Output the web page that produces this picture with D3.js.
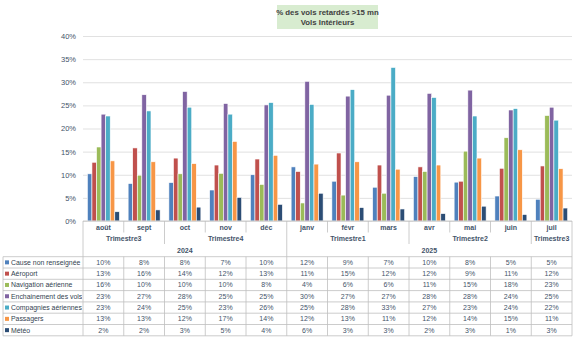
<!DOCTYPE html>
<html><head><meta charset="utf-8">
<script src="https://cdn.jsdelivr.net/npm/d3@7/dist/d3.min.js"></script>
<style>
body{margin:0;background:#fff;}
svg{display:block;font-family:"Liberation Sans",Arial,sans-serif;}
</style></head>
<body>
<svg id="c" width="576" height="339"></svg>
<script>
const months = ["août","sept","oct","nov","déc","janv","févr","mars","avr","mai","juin","juil"];
const quarters = [{label:"Trimestre3",n:2},{label:"Trimestre4",n:3},{label:"Trimestre1",n:3},{label:"Trimestre2",n:3},{label:"Trimestre3",n:1}];
const years = [{label:"2024",n:5},{label:"2025",n:7}];
const seriesNames = ["Cause non renseignée","Aéroport","Navigation aérienne","Enchainement des vols","Compagnies aériennes","Passagers","Météo"];
const colors = ["#4f81bd","#c0504d","#9bbb59","#8064a2","#4bacc6","#f79646","#2c4d75"];
// values in %
const causeNonRenseignee = [10.2,8.1,8.3,6.7,10.0,11.7,8.6,7.3,9.6,8.4,5.4,4.7];
const aeroport          = [12.7,15.8,13.6,12.1,13.4,10.7,14.7,12.1,11.7,8.6,11.4,11.9];
const navigation        = [16.0,9.9,10.2,10.3,7.9,3.9,5.6,6.0,10.7,15.1,18.0,22.8];
const enchainement      = [23.1,27.3,28.0,25.4,25.1,30.2,27.0,27.2,27.6,28.3,24.0,24.6];
const compagnies        = [22.7,23.8,24.6,23.1,25.6,25.2,28.4,33.2,26.7,22.7,24.3,21.8];
const passagers         = [13.0,12.8,12.4,17.2,14.2,12.3,12.8,11.2,12.1,13.6,15.4,11.3];
const meteo             = [2.0,2.4,3.0,5.1,3.6,6.0,2.9,2.6,1.6,3.2,1.4,2.8];
const seriesValues = [causeNonRenseignee,aeroport,navigation,enchainement,compagnies,passagers,meteo];
const yTicks = [0,5,10,15,20,25,30,35,40];
const titleLines = ["% des vols retardés >15 mn","Vols Intérieurs"];

(function(){
const svg = d3.select("#c");
const pL = 83, pR = 572, pT = 36, pB = 221;
const textCol = "#44546a", gridCol = "#d9d9d9", lineCol = "#bfbfbf";

const x = d3.scaleBand().domain(months).range([pL,pR]).paddingInner(0).paddingOuter(0);
const x1 = d3.scaleBand().domain(seriesNames).range([0,x.bandwidth()]).paddingInner(0).paddingOuter(0.96);
const y = d3.scaleLinear().domain([0,40]).range([pB,pT]);

// title
const tg = svg.append("g");
tg.append("rect").attr("x",277).attr("y",5).attr("width",101).attr("height",24).attr("fill","#d8ecd0");
titleLines.forEach((t,i)=>{
  tg.append("text").attr("x",327.5).attr("y",15+i*10).attr("text-anchor","middle")
    .attr("font-size",7.8).attr("font-weight","bold").attr("fill","#404040").text(t);
});

// gridlines
const yAxis = d3.axisLeft(y).tickValues(yTicks).tickFormat(d=>d+"%").tickSize(-(pR-pL)).tickPadding(7);
const ga = svg.append("g").attr("transform",`translate(${pL},0)`).call(yAxis);
ga.select(".domain").remove();
ga.selectAll(".tick line").attr("stroke",gridCol).attr("stroke-width",0.8);
ga.selectAll(".tick text").attr("fill",textCol).attr("font-size",7.5).attr("font-family","Liberation Sans, Arial, sans-serif");

// bars
const groups = svg.append("g").selectAll("g").data(months).join("g")
  .attr("transform",d=>`translate(${x(d)},0)`);
groups.selectAll("rect").data((m,i)=>seriesNames.map((s,k)=>({s,k,v:seriesValues[k][i]}))).join("rect")
  .attr("x",d=>x1(d.s)).attr("width",x1.bandwidth())
  .attr("y",d=>y(d.v)).attr("height",d=>y(0)-y(d.v))
  .attr("fill",d=>colors[d.k]).attr("stroke","#fff").attr("stroke-width",0.6);

// axis baseline
svg.append("line").attr("x1",pL).attr("x2",pR).attr("y1",pB).attr("y2",pB).attr("stroke",lineCol).attr("stroke-width",0.8);

// category axis labels
const rowM = pB, rowQ = 232.5, rowY = 244, tTop = 256.7, rowH = 11.3;
const tBottom = tTop + rowH*7;
const ax = svg.append("g");
months.forEach(m=>{
  ax.append("text").attr("x",x(m)+x.bandwidth()/2).attr("y",rowM+8.5).attr("text-anchor","middle")
    .attr("font-size",7).attr("font-weight","bold").attr("fill",textCol).text(m);
});
let qStarts = new Set(), yStarts = new Set();
let idx=0; quarters.forEach(q=>{qStarts.add(idx); idx+=q.n;});
idx=0; years.forEach(yy=>{yStarts.add(idx); idx+=yy.n;});
months.forEach((m,i)=>{
  if(i===0) return;
  const xx = x(m);
  let y2 = rowQ;
  if(qStarts.has(i)) y2 = rowY;
  if(yStarts.has(i)) y2 = tTop;
  ax.append("line").attr("x1",xx).attr("x2",xx).attr("y1",rowM).attr("y2",y2).attr("stroke",lineCol).attr("stroke-width",0.8);
});
idx=0;
quarters.forEach(q=>{
  const x0 = x(months[idx]), xe = x(months[idx+q.n-1])+x.bandwidth();
  ax.append("text").attr("x",(x0+xe)/2).attr("y",rowQ+8.5).attr("text-anchor","middle")
    .attr("font-size",7).attr("font-weight","bold").attr("fill",textCol).text(q.label);
  idx+=q.n;
});
idx=0;
years.forEach(yy=>{
  const x0 = x(months[idx]), xe = x(months[idx+yy.n-1])+x.bandwidth();
  ax.append("text").attr("x",(x0+xe)/2).attr("y",rowY+9).attr("text-anchor","middle")
    .attr("font-size",7).attr("font-weight","bold").attr("fill",textCol).text(yy.label);
  idx+=yy.n;
});

// data table
const tb = svg.append("g");
const fmt = v => Math.round(v)+"%";
svg.append("clipPath").attr("id","lc").append("rect").attr("x",3).attr("y",tTop).attr("width",pL-4).attr("height",rowH*7);
seriesNames.forEach((s,k)=>{
  const yy = tTop + rowH*k;
  const lg = tb.append("g").attr("clip-path","url(#lc)");
  lg.append("rect").attr("x",5).attr("y",yy+rowH/2-2).attr("width",4).attr("height",4).attr("fill",colors[k]);
  lg.append("text").attr("x",11).attr("y",yy+rowH/2+2.5).attr("font-size",6.9).attr("fill","#333f50").text(s);
  months.forEach((m,i)=>{
    tb.append("text").attr("x",x(m)+x.bandwidth()/2).attr("y",yy+rowH/2+2.5).attr("text-anchor","middle")
      .attr("font-size",7).attr("fill",textCol).text(fmt(seriesValues[k][i]));
  });
});
for(let k=0;k<=7;k++){
  const yy = tTop + rowH*k;
  tb.append("line").attr("x1",3).attr("x2",pR).attr("y1",yy).attr("y2",yy).attr("stroke",lineCol).attr("stroke-width",0.8);
}
tb.append("line").attr("x1",3).attr("x2",3).attr("y1",tTop).attr("y2",tBottom).attr("stroke",lineCol).attr("stroke-width",0.8);
months.forEach((m,i)=>{
  if(i===0) return;
  tb.append("line").attr("x1",x(m)).attr("x2",x(m)).attr("y1",tTop).attr("y2",tBottom).attr("stroke",lineCol).attr("stroke-width",0.8);
});
[pL,pR].forEach(xx=>{
  tb.append("line").attr("x1",xx).attr("x2",xx).attr("y1",pB).attr("y2",tBottom).attr("stroke",lineCol).attr("stroke-width",0.8);
});
})();
</script>
</body></html>
